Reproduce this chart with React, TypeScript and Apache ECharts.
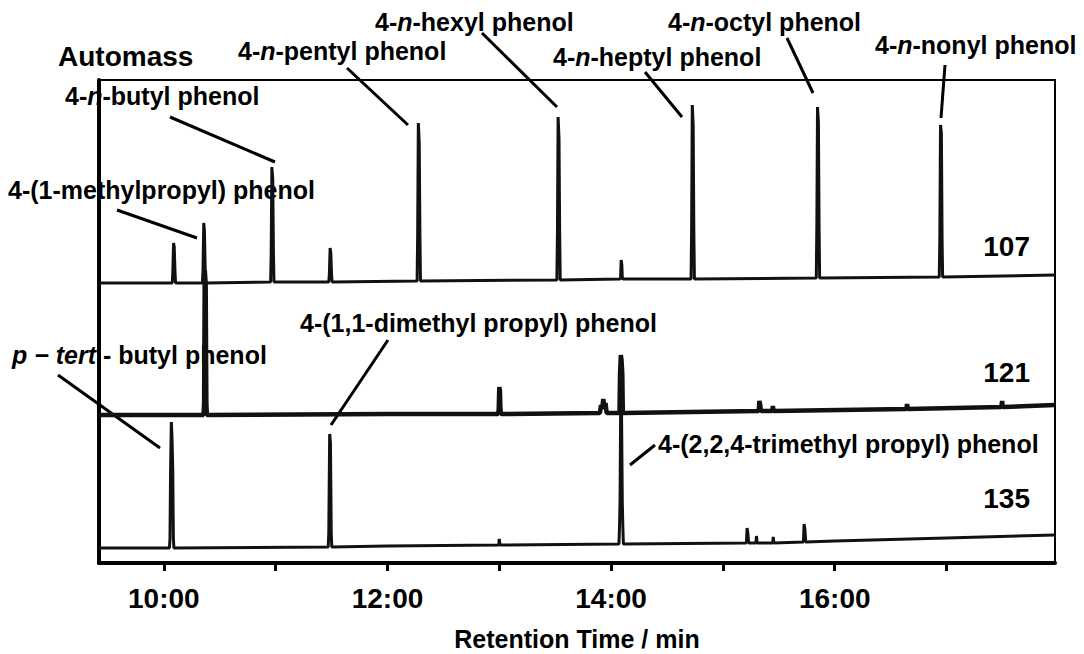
import React, { useEffect, useRef } from "react";
import * as echarts from "echarts";

// Retention time axis (minutes)
const X_MIN = 9.42;
const X_MAX = 17.97;
const TICK_MINUTES = [10, 11, 12, 13, 14, 15, 16, 17];
const LABEL_MINUTES = [10, 12, 14, 16];

// Vertical stacking offsets of the three ion traces (arbitrary intensity units)
const OFFSET_107 = 280;
const OFFSET_121 = 148;
const OFFSET_135 = 15;
const Y_MAX = 483;

// m/z 107 trace: [time (min), intensity]
const trace107: [number, number][] = [
  [9.42, 0], [10.075, 0], [10.08, 10], [10.087, 40], [10.093, 36], [10.1, 10], [10.105, 0],
  [10.345, 0], [10.35, 12], [10.357, 60], [10.363, 52], [10.37, 12], [10.375, 0],
  [10.955, 1], [10.96, 30], [10.966, 116], [10.974, 104], [10.98, 30], [10.985, 1],
  [11.475, 1], [11.48, 8], [11.487, 35], [11.493, 30], [11.5, 8], [11.505, 1],
  [12.265, 2], [12.27, 50], [12.276, 160], [12.284, 140], [12.29, 50], [12.295, 2],
  [13.515, 3], [13.52, 50], [13.526, 166], [13.534, 145], [13.54, 50], [13.545, 3],
  [14.08, 4], [14.085, 6], [14.09, 23], [14.096, 18], [14.1, 6], [14.105, 4],
  [14.715, 4], [14.72, 51], [14.726, 178], [14.734, 158], [14.74, 51], [14.745, 4],
  [15.835, 5], [15.84, 56], [15.846, 176], [15.854, 161], [15.86, 56], [15.865, 5],
  [16.935, 6], [16.94, 45], [16.946, 158], [16.954, 150], [16.96, 45], [16.965, 6],
  [17.97, 8],
];

// m/z 121 trace
const trace121: [number, number][] = [
  [9.42, 0], [10.355, 0], [10.36, 12], [10.366, 145], [10.374, 130], [10.38, 12], [10.385, 0],
  [12.0, 1], [12.99, 1], [12.995, 6], [13.0, 28], [13.006, 24], [13.01, 6], [13.015, 1],
  [13.9, 2], [13.91, 10], [13.92, 6], [13.93, 16], [13.94, 8], [13.95, 12], [13.96, 2],
  [14.075, 2], [14.08, 41], [14.087, 60], [14.093, 55], [14.1, 41], [14.105, 2],
  [15.32, 4], [15.326, 14], [15.334, 10], [15.34, 4],
  [15.44, 4], [15.447, 9], [15.453, 4],
  [16.64, 6], [16.647, 11], [16.653, 6],
  [17.49, 8], [17.497, 14], [17.503, 8],
  [17.97, 10],
];

// m/z 135 trace
const trace135: [number, number][] = [
  [9.42, 0], [10.05, 0], [10.055, 10], [10.06, 76], [10.067, 126], [10.073, 110], [10.08, 76], [10.085, 10], [10.09, 0],
  [11.47, 1], [11.475, 15], [11.483, 114], [11.49, 105], [11.497, 15], [11.502, 1],
  [12.0, 2], [12.995, 3], [13.0, 9], [13.006, 3],
  [14.07, 4], [14.075, 21], [14.08, 46], [14.086, 149], [14.093, 140], [14.1, 46], [14.105, 21], [14.11, 4],
  [15.21, 5], [15.216, 20], [15.224, 14], [15.23, 5],
  [15.295, 5], [15.3, 12], [15.306, 5],
  [15.445, 5], [15.45, 11], [15.456, 5],
  [15.72, 6], [15.726, 24], [15.734, 18], [15.74, 6],
  [16.0, 7], [17.0, 10], [17.97, 13],
];

const FONT = "'Liberation Sans', Arial, sans-serif";

const rich = (size: number) => ({
  a: { fontSize: size, fontWeight: "bold", fontFamily: FONT, fill: "#000" },
  i: { fontSize: size, fontWeight: "bold", fontStyle: "italic", fontFamily: FONT, fill: "#000" },
});

function label(text: string, x: number, y: number, size = 25, align = "left") {
  return {
    type: "text",
    x,
    y,
    silent: true,
    style: {
      text,
      fontSize: size,
      fontWeight: "bold",
      fontFamily: FONT,
      fill: "#000",
      align,
      verticalAlign: "middle",
      rich: rich(size),
    },
  };
}

function leader(x1: number, y1: number, x2: number, y2: number) {
  return {
    type: "line",
    silent: true,
    shape: { x1, y1, x2, y2 },
    style: { stroke: "#000", lineWidth: 3 },
  };
}

export default function App() {
  const ref = useRef<HTMLDivElement>(null);

  useEffect(() => {
    if (!ref.current) return;
    const chart = echarts.init(ref.current, undefined, { renderer: "svg" });
    const lineSeries = (data: [number, number][], offset: number, width: number) => ({
      type: "line",
      showSymbol: false,
      symbol: "none",
      silent: true,
      data: data.map(([t, v]) => [t, v + offset]),
      lineStyle: { color: "#111", width },
    });

    chart.setOption({
      animation: false,
      backgroundColor: "#fff",
      grid: {
        left: 99,
        right: 29,
        top: 80,
        bottom: 91,
        outerBoundsMode: "none",
        containLabel: false,
        show: true,
        borderColor: "#000",
        borderWidth: 2,
        backgroundColor: "transparent",
      },
      xAxis: {
        type: "value",
        min: X_MIN,
        max: X_MAX,
        name: "Retention Time / min",
        nameLocation: "middle",
        nameGap: 63,
        nameTextStyle: { fontSize: 25, fontWeight: "bold", color: "#000", fontFamily: FONT },
        axisLine: { show: true, lineStyle: { color: "#000", width: 4 } },
        axisTick: { show: true, customValues: TICK_MINUTES, length: 8, lineStyle: { color: "#000", width: 3 } },
        axisLabel: {
          customValues: LABEL_MINUTES,
          formatter: (v: number) => `${Math.round(v)}:00`,
          fontSize: 28,
          fontWeight: "bold",
          fontFamily: FONT,
          color: "#000",
          margin: 21,
        },
        splitLine: { show: false },
      },
      yAxis: {
        type: "value",
        min: 0,
        max: Y_MAX,
        axisLine: { show: true, lineStyle: { color: "#000", width: 4 } },
        axisTick: { show: false },
        axisLabel: { show: false },
        splitLine: { show: false },
      },
      series: [
        lineSeries(trace107, OFFSET_107, 3),
        lineSeries(trace121, OFFSET_121, 4.5),
        lineSeries(trace135, OFFSET_135, 3),
      ],
      graphic: [
        label("Automass", 58, 56, 28),
        label("{a|4-}{i|n}{a|-butyl phenol}", 65, 96),
        label("{a|4-(1-methylpropyl) phenol}", 8, 190),
        label("{a|4-}{i|n}{a|-pentyl phenol}", 238, 51),
        label("{a|4-}{i|n}{a|-hexyl phenol}", 375, 22),
        label("{a|4-}{i|n}{a|-heptyl phenol}", 553, 57),
        label("{a|4-}{i|n}{a|-octyl phenol}", 668, 22),
        label("{a|4-}{i|n}{a|-nonyl phenol}", 875, 45),
        label("{i|p − tert}{a| - butyl phenol}", 12, 355),
        label("{a|4-(1,1-dimethyl propyl) phenol}", 300, 323),
        label("{a|4-(2,2,4-trimethyl propyl) phenol}", 658, 444),
        label("{a|107}", 1030, 246, 28, "right"),
        label("{a|121}", 1030, 372, 28, "right"),
        label("{a|135}", 1030, 498, 28, "right"),
        leader(170, 117, 275, 162),
        leader(117, 210, 197, 238),
        leader(347, 68, 408, 125),
        leader(482, 33, 557, 107),
        leader(645, 72, 682, 117),
        leader(787, 38, 813, 93),
        leader(945, 65, 941, 118),
        leader(58, 375, 160, 448),
        leader(388, 340, 331, 425),
        leader(655, 445, 630, 465),
      ],
    });
    return () => chart.dispose();
  }, []);

  return (
    <div
      ref={ref}
      style={{ position: "fixed", left: 0, top: 0, width: 1084, height: 654, background: "#fff" }}
    />
  );
}
